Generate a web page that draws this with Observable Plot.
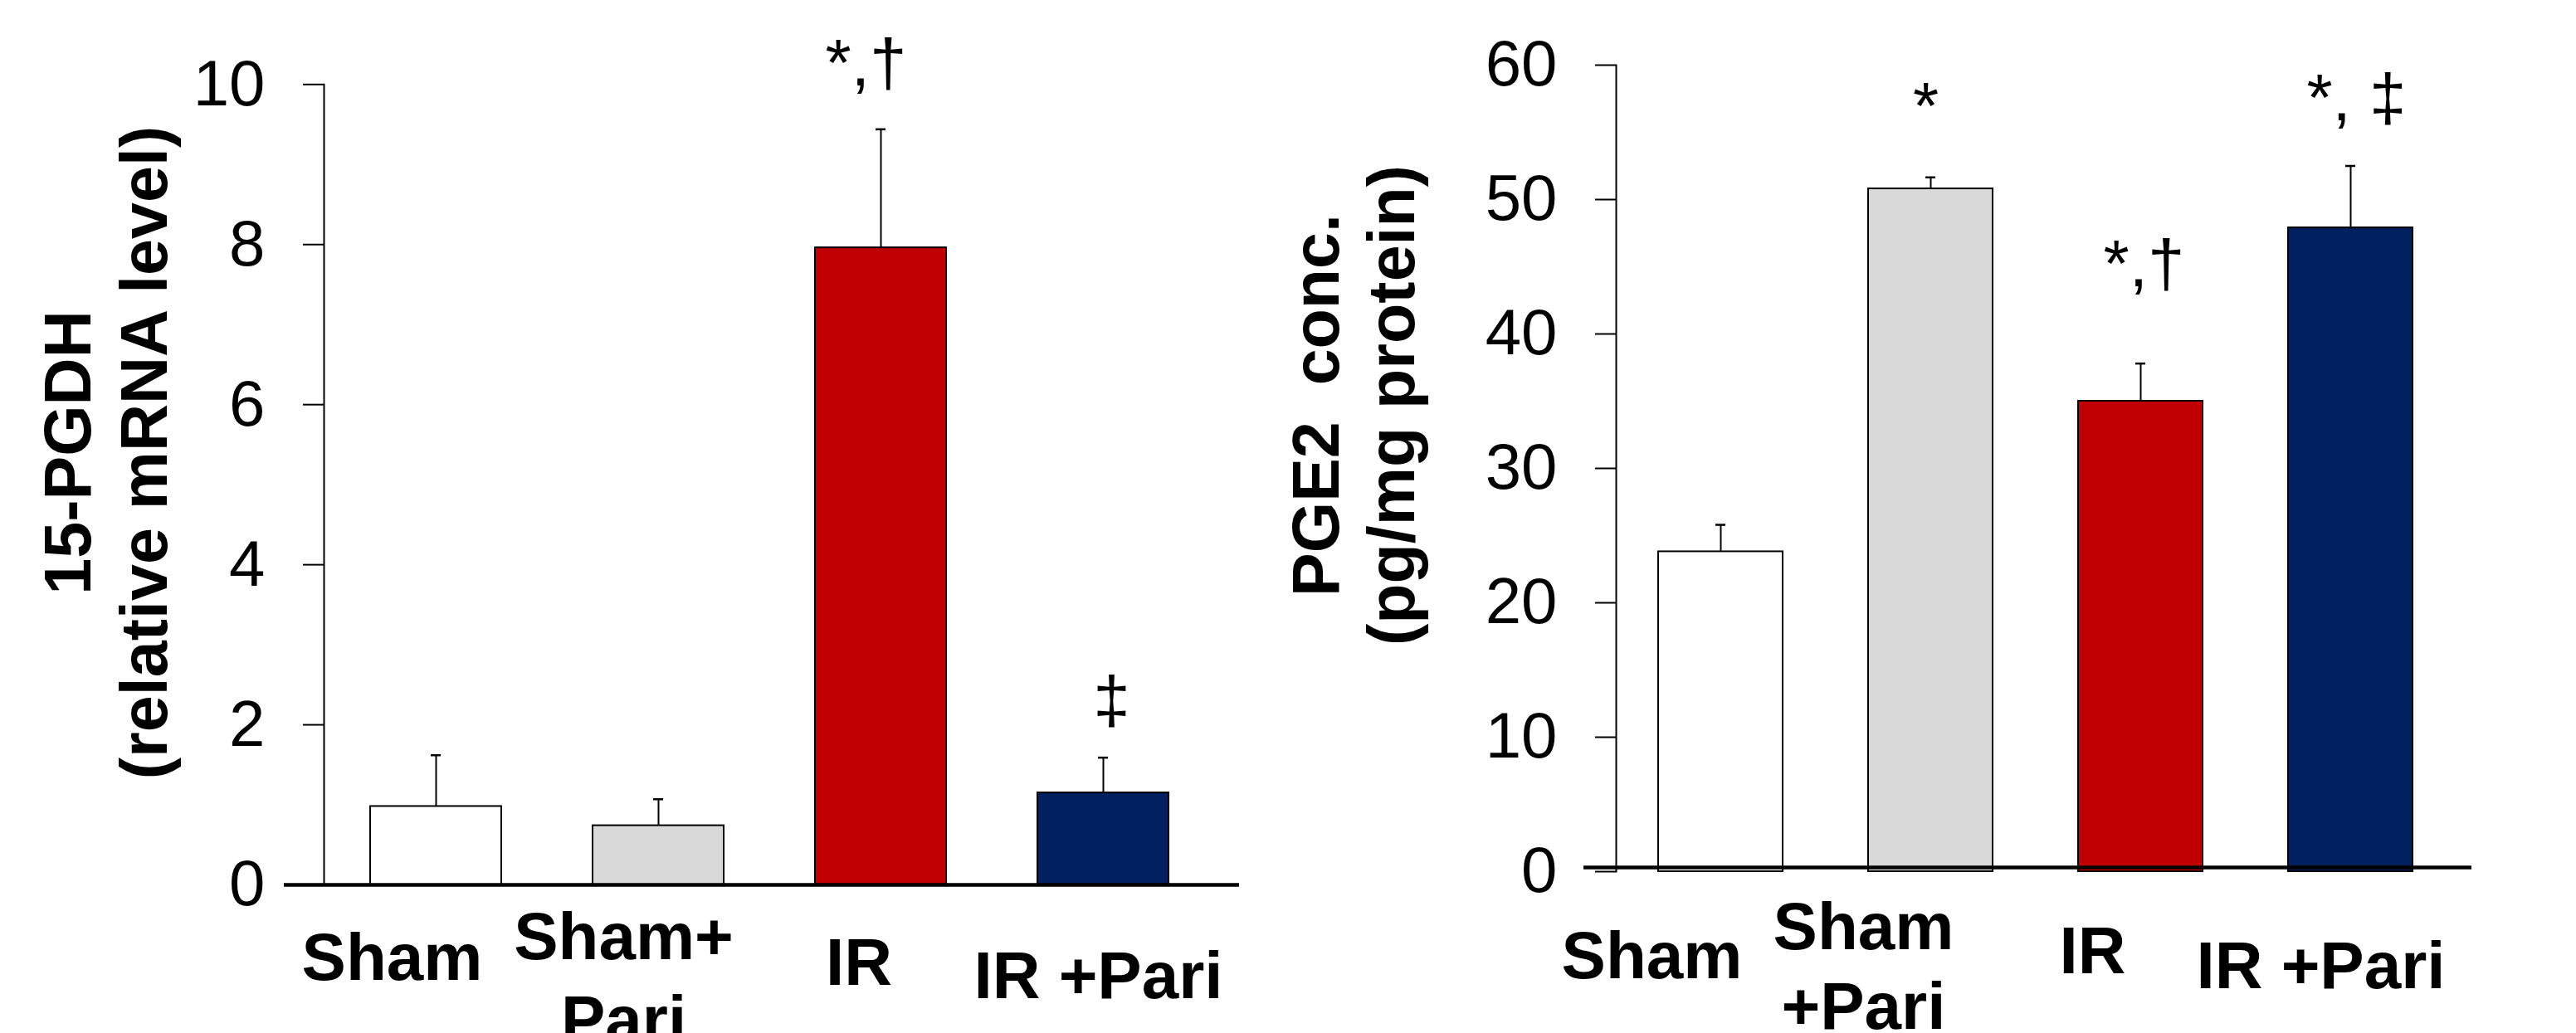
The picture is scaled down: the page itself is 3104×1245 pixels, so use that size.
<!DOCTYPE html>
<html>
<head>
<meta charset="utf-8">
<script src="https://cdn.jsdelivr.net/npm/d3@7"></script>
<script src="https://cdn.jsdelivr.net/npm/@observablehq/plot@0.6"></script>
<style>
html, body { margin: 0; padding: 0; background: #fff; }
#chart { position: relative; width: 3104px; height: 1245px; overflow: hidden; background: #fff; }
#left, #right { position: absolute; top: 0; }
#left { left: 0; }
#right { left: 1552px; }
</style>
</head>
<body>
<div id="chart"><div id="left"></div><div id="right"></div></div>
<script>
// ---- data ----
const groups = ["Sham", "Sham+Pari", "IR", "IR+Pari"];

const pgdhMean = [0.98, 0.74, 7.96, 1.15];
const pgdhSem  = [0.64, 0.33, 1.48, 0.44];
const pgdhSig  = ["", "", "*,†", "‡"];
const pgdhGroupLabels = ["Sham", "Sham+\nPari", "IR", "IR +Pari"];
const pgdhTicks = [0, 2, 4, 6, 8, 10];
const pgdhTitle = ["15-PGDH", "(relative mRNA level)"];

const pge2Mean = [23.8, 50.8, 35.0, 47.9];
const pge2Sem  = [2.0, 0.85, 2.8, 4.6];
const pge2Sig  = ["", "*", "*,†", "*, ‡"];
const pge2GroupLabels = ["Sham", "Sham\n+Pari", "IR", "IR +Pari"];
const pge2Ticks = [0, 10, 20, 30, 40, 50, 60];
const pge2Title = ["PGE2\u00a0 conc.", "(pg/mg protein)"];

// ---- style ----
const fills = ["#ffffff", "#d9d9d9", "#c00000", "#002060"];
const FONT = "Arial, 'Liberation Sans', Helvetica, sans-serif";

function panel(cfg) {
  const data = groups.map((g, i) => ({
    group: g, mean: cfg.mean[i], sem: cfg.sem[i], sig: cfg.sig[i], label: cfg.labels[i], fill: fills[i]
  }));
  const L = cfg.layout;
  const labelMarks = data.map((d, i) => {
    const n = d.label.split("\n").length;
    return Plot.text([d], {
      x: "group", frameAnchor: "bottom", text: "label",
      fontSize: 80, fontWeight: "bold", lineAnchor: "bottom", lineHeight: L.labelLH,
      dx: L.labelDx[i], dy: L.labelDy[i] + (n - 1) * L.labelLH * 80
    });
  });
  const sigMarks = data.map((d, i) => d.sig ? Plot.text([d], {
    x: "group", y: e => e.mean + e.sem, text: "sig",
    fontSize: 80, lineAnchor: "bottom", dx: L.sigDx[i], dy: L.sigDy[i]
  }) : null).filter(Boolean);
  const titleMarks = cfg.title.map((t, k) => Plot.text([t], {
    text: d => d, frameAnchor: "left", rotate: -90, textAnchor: "middle", lineAnchor: "bottom",
    fontSize: 79, fontWeight: "bold", dx: L.titleDx[k], dy: L.titleDy
  }));
  return Plot.plot({
    width: 1552, height: 1245,
    marginLeft: L.ml, marginRight: L.mr, marginTop: L.mt, marginBottom: L.mb,
    style: { fontFamily: FONT, background: "transparent", color: "black", overflow: "visible" },
    x: { domain: groups, paddingInner: L.pi, paddingOuter: L.po, align: 0.5, axis: null },
    y: { domain: cfg.domain, axis: null },
    marks: [
      Plot.frame({ anchor: "left", stroke: "black", strokeWidth: 2 }),
      Plot.axisY({ ticks: cfg.ticks, tickSize: 25, tickPadding: 46, fontSize: 78, strokeWidth: 2, label: null, tickFormat: d => String(d) }),
      Plot.ruleX(data, { x: "group", y1: "mean", y2: d => d.mean + d.sem, stroke: "black", strokeWidth: 2 }),
      Plot.tickY(data, { x: "group", y: d => d.mean + d.sem, stroke: "black", strokeWidth: 2.5, insetLeft: L.capInset, insetRight: L.capInset }),
      Plot.barY(data, { x: "group", y: "mean", fill: "fill", stroke: "black", strokeWidth: 2 }),
      Plot.ruleY([0], { stroke: "black", strokeWidth: 4.5, dy: L.axisDy, insetLeft: L.axisInL, insetRight: L.axisInR }),
      ...labelMarks,
      ...sigMarks,
      ...titleMarks
    ]
  });
}

const left = panel({
  mean: pgdhMean, sem: pgdhSem, sig: pgdhSig, labels: pgdhGroupLabels, ticks: pgdhTicks,
  domain: [0, 10], title: pgdhTitle,
  layout: {
    ml: 390, mr: 89, mt: 101.3, mb: 179, pi: 0.4115, po: 0.204, capInset: 73,
    axisDy: 0, axisInL: -48, axisInR: -30,
    labelDx: [-53, -42, -26.5, -6], labelDy: [114, 89, 120.6, 136], labelLH: 1.25,
    sigDx: [0, 0, -18, 10], sigDy: [0, 0, -53, -42],
    titleDx: [-282, -190], titleDy: -38.65
  }
});
const right = panel({
  mean: pge2Mean, sem: pge2Sem, sig: pge2Sig, labels: pge2GroupLabels, ticks: pge2Ticks,
  domain: [0, 60], title: pge2Title,
  layout: {
    ml: 395, mr: 146.5, mt: 78, mb: 195, pi: 0.408, po: 0.197, capInset: 69,
    axisDy: -5, axisInL: -39, axisInR: -20.5,
    labelDx: [-83, -81, -58, -36], labelDy: [128, 93, 122, 140], labelLH: 1.21,
    sigDx: [0, -6, 4, 7], sigDy: [0, -58.6, -93, -55],
    titleDx: [-335, -244], titleDy: -76
  }
});
document.getElementById("left").appendChild(left);
document.getElementById("right").appendChild(right);
</script>
</body>
</html>
